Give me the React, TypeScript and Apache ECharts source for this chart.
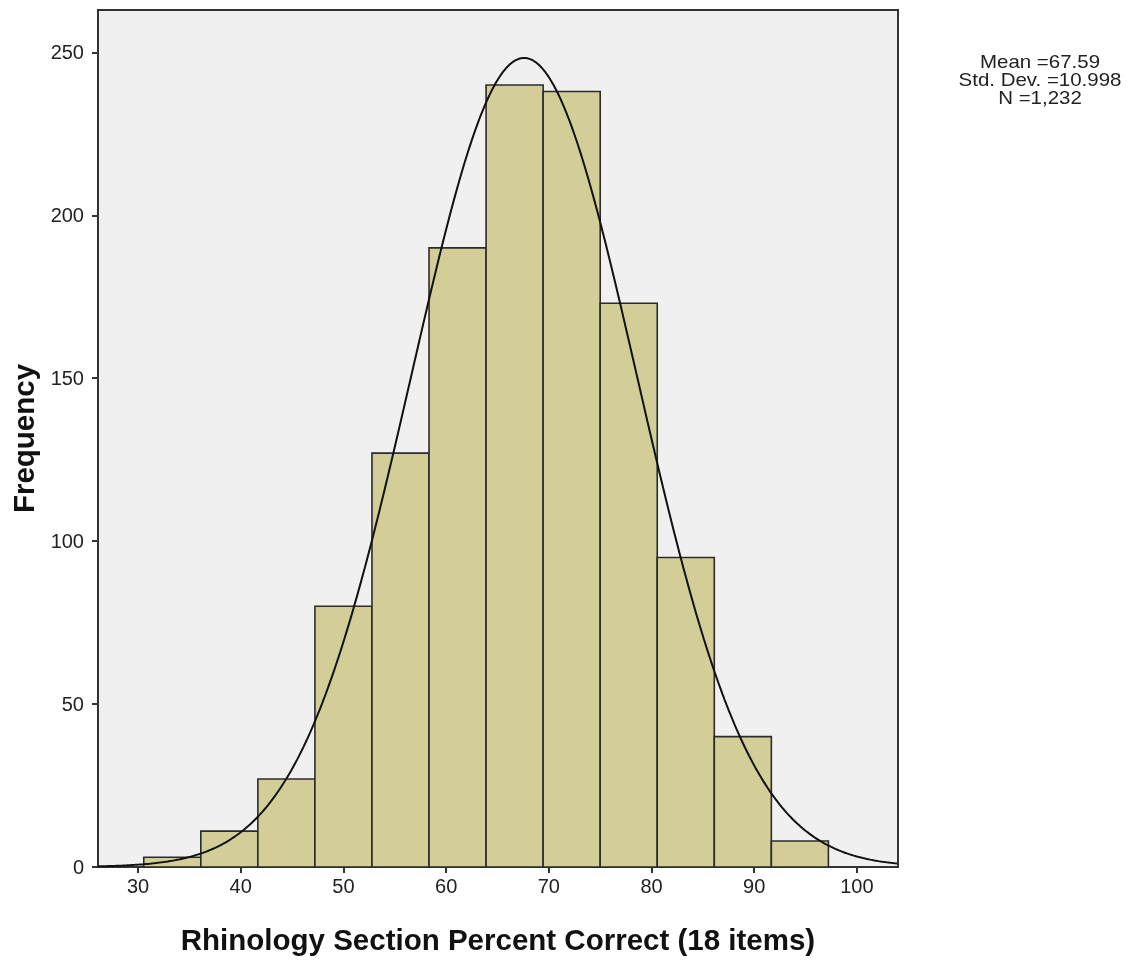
import React, { useEffect, useRef } from "react";
import * as echarts from "echarts";

// Histogram bins (bin width = 100/18 percent)
const BIN_START = 30.556;
const BIN_WIDTH = 5.5556;
const counts = [3, 11, 27, 80, 127, 190, 240, 238, 173, 95, 40, 8];
const xTicks = [30, 40, 50, 60, 70, 80, 90, 100];
const yTicks = [0, 50, 100, 150, 200, 250];
const MEAN = 67.59;
const SD = 10.998;
const N = 1232;
const statLines = ["Mean =67.59", "Std. Dev. =10.998", "N =1,232"];

const X_MIN = 26.1;
const X_MAX = 104;

export default function App() {
  const ref = useRef<HTMLDivElement>(null);
  useEffect(() => {
    if (!ref.current) return;
    const chart = echarts.init(ref.current, undefined, { renderer: "svg" });
    const bars = counts.map((c, i) => [BIN_START + i * BIN_WIDTH, BIN_START + (i + 1) * BIN_WIDTH, c]);
    const curve: number[][] = [];
    for (let x = X_MIN; x <= X_MAX + 1e-9; x += 0.2) {
      const z = (x - MEAN) / SD;
      curve.push([x, (N * BIN_WIDTH) / (SD * Math.sqrt(2 * Math.PI)) * Math.exp(-0.5 * z * z)]);
    }
    const font = "'Liberation Sans', Arial, sans-serif";
    chart.setOption({
      animation: false,
      grid: {
        left: 96.5,
        top: 10,
        right: 237,
        bottom: 96,
        show: true,
        backgroundColor: "#f0f0f0",
        borderColor: "#333333",
        borderWidth: 2,
      },
      xAxis: {
        type: "value",
        min: X_MIN,
        max: X_MAX,
        splitLine: { show: false },
        axisLine: { show: false },
        axisTick: { show: true, customValues: xTicks, length: 6, lineStyle: { color: "#333", width: 2 } },
        axisLabel: { customValues: xTicks, color: "#222", fontSize: 20, fontFamily: font, margin: 9 },
        name: "Rhinology Section Percent Correct (18 items)",
        nameLocation: "middle",
        nameGap: 57,
        nameTextStyle: { fontSize: 29.5, fontWeight: "bold", color: "#111", fontFamily: font },
      },
      yAxis: {
        type: "value",
        min: 0,
        max: 263,
        splitLine: { show: false },
        axisLine: { show: false },
        axisTick: { show: true, customValues: yTicks, length: 6, lineStyle: { color: "#333", width: 2 } },
        axisLabel: { customValues: yTicks, color: "#222", fontSize: 20, fontFamily: font, margin: 14 },
        name: "Frequency",
        nameLocation: "middle",
        nameGap: 60,
        nameTextStyle: { fontSize: 29.5, fontWeight: "bold", color: "#111", fontFamily: font },
      },
      graphic: statLines.map((t, i) => ({
        type: "text",
        x: 1040,
        y: 62 + i * 18,
        scaleX: 1.17,
        style: {
          text: t,
          fontSize: 17.5,
          fontFamily: font,
          fill: "#222",
          textAlign: "center",
          textVerticalAlign: "middle",
        },
      })),
      series: [
        {
          type: "custom",
          data: bars,
          encode: { x: [0, 1], y: 2 },
          renderItem: (params: any, api: any) => {
            const p0 = api.coord([api.value(0), api.value(2)]);
            const p1 = api.coord([api.value(1), 0]);
            return {
              type: "rect",
              shape: { x: p0[0], y: p0[1], width: p1[0] - p0[0], height: p1[1] - p0[1] },
              style: { fill: "#d3ce97", stroke: "#2b2b2b", lineWidth: 1.6 },
            };
          },
          z: 2,
        },
        {
          type: "line",
          data: curve,
          showSymbol: false,
          smooth: false,
          lineStyle: { color: "#111", width: 2 },
          z: 3,
        },
      ],
    });
    return () => chart.dispose();
  }, []);
  return <div ref={ref} style={{ position: "fixed", left: 0, top: 0, width: 1135, height: 963 }} />;
}
